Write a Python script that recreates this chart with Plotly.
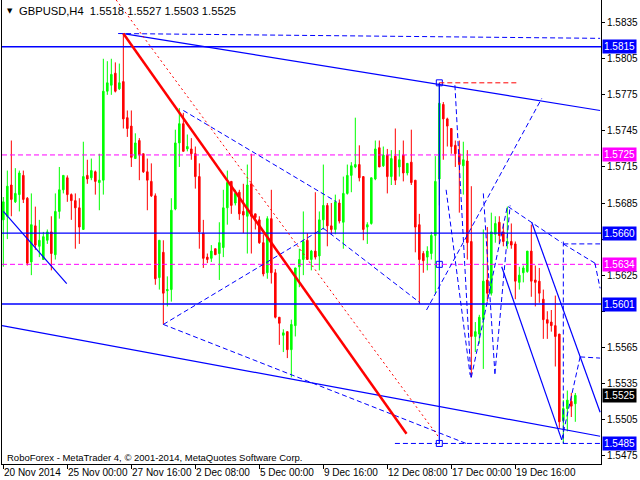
import plotly.graph_objects as go

# ---------------- data ----------------
opens = [1.5671,1.5674,1.5700,1.5686,1.5692,1.5708,1.5689,1.5636,1.5666,1.5649,
 1.5638,1.5654,1.5661,1.5642,1.5678,1.5696,1.5706,1.5692,1.5687,1.5681,
 1.5663,1.5708,1.5706,1.5711,1.5702,1.5704,1.5778,1.5783,1.5793,1.5780,
 1.5786,1.5756,1.5749,1.5722,1.5737,1.5726,1.5711,1.5703,1.5691,1.5623,
 1.5644,1.5612,1.5613,1.5680,1.5735,1.5751,1.5730,1.5730,1.5726,1.5707,
 1.5660,1.5640,1.5639,1.5647,1.5643,1.5648,1.5681,1.5703,1.5685,1.5694,
 1.5678,1.5674,1.5701,1.5676,1.5671,1.5652,1.5627,1.5672,1.5627,1.5590,
 1.5575,1.5578,1.5563,1.5583,1.5632,1.5638,1.5654,1.5638,1.5645,1.5641,
 1.5671,1.5683,1.5666,1.5663,1.5685,1.5669,1.5693,1.5708,1.5715,1.5717,
 1.5707,1.5665,1.5668,1.5705,1.5731,1.5716,1.5725,1.5707,1.5724,1.5715,
 1.5725,1.5710,1.5719,1.5704,1.5667,1.5643,1.5640,1.5643,1.5658,1.5705,
 1.5767,1.5755,1.5747,1.5733,1.5726,1.5716,1.5720,1.5653,1.5574,1.5576,
 1.5588,1.5621,1.5610,1.5659,1.5669,1.5661,1.5651,1.5653,1.5651,1.5619,
 1.5627,1.5628,1.5645,1.5621,1.5620,1.5605,1.5588,1.5586,1.5583,1.5576,
 1.5504,1.5514,1.5520,1.5518]

highs = [1.5690,1.5712,1.5737,1.5714,1.5712,1.5712,1.5690,1.5693,1.5682,1.5671,
 1.5661,1.5663,1.5674,1.5693,1.5715,1.5708,1.5708,1.5693,1.5693,1.5689,
 1.5736,1.5721,1.5722,1.5712,1.5726,1.5805,1.5803,1.5805,1.5802,1.5801,
 1.5826,1.5762,1.5762,1.5743,1.5739,1.5726,1.5722,1.5718,1.5693,1.5654,
 1.5654,1.5624,1.5689,1.5746,1.5764,1.5760,1.5742,1.5739,1.5732,1.5718,
 1.5671,1.5643,1.5650,1.5647,1.5669,1.5696,1.5712,1.5703,1.5696,1.5696,
 1.5701,1.5717,1.5726,1.5676,1.5674,1.5659,1.5674,1.5696,1.5630,1.5590,
 1.5580,1.5578,1.5588,1.5631,1.5647,1.5678,1.5660,1.5646,1.5694,1.5678,
 1.5717,1.5685,1.5685,1.5692,1.5688,1.5707,1.5717,1.5719,1.5756,1.5733,
 1.5707,1.5669,1.5706,1.5737,1.5737,1.5732,1.5730,1.5729,1.5747,1.5729,
 1.5737,1.5718,1.5746,1.5704,1.5676,1.5645,1.5649,1.5661,1.5724,1.5785,
 1.5769,1.5756,1.5747,1.5737,1.5737,1.5736,1.5729,1.5699,1.5586,1.5592,
 1.5663,1.5665,1.5677,1.5674,1.5674,1.5668,1.5682,1.5668,1.5653,1.5632,
 1.5633,1.5645,1.5667,1.5633,1.5631,1.5613,1.5595,1.5596,1.5608,1.5576,
 1.5521,1.5529,1.5527,1.5527]

lows = [1.5632,1.5655,1.5674,1.5685,1.5678,1.5685,1.5633,1.5625,1.5646,1.5640,
 1.5638,1.5651,1.5629,1.5638,1.5672,1.5693,1.5686,1.5671,1.5647,1.5651,
 1.5663,1.5701,1.5704,1.5692,1.5679,1.5692,1.5775,1.5775,1.5777,1.5779,
 1.5747,1.5740,1.5715,1.5722,1.5704,1.5710,1.5679,1.5690,1.5617,1.5613,
 1.5584,1.5599,1.5603,1.5679,1.5715,1.5728,1.5728,1.5721,1.5697,1.5647,
 1.5631,1.5635,1.5636,1.5642,1.5621,1.5640,1.5667,1.5676,1.5683,1.5671,
 1.5660,1.5643,1.5643,1.5663,1.5651,1.5624,1.5622,1.5618,1.5589,1.5567,
 1.5561,1.5556,1.5540,1.5574,1.5615,1.5625,1.5638,1.5629,1.5638,1.5629,
 1.5663,1.5649,1.5659,1.5659,1.5668,1.5647,1.5692,1.5694,1.5714,1.5703,
 1.5654,1.5651,1.5667,1.5704,1.5715,1.5715,1.5693,1.5700,1.5700,1.5707,
 1.5703,1.5708,1.5700,1.5644,1.5601,1.5627,1.5629,1.5638,1.5610,1.5683,
 1.5721,1.5732,1.5726,1.5715,1.5677,1.5692,1.5638,1.5540,1.5561,1.5568,
 1.5547,1.5603,1.5608,1.5652,1.5651,1.5649,1.5647,1.5647,1.5605,1.5613,
 1.5619,1.5627,1.5607,1.5599,1.5602,1.5572,1.5572,1.5578,1.5549,1.5498,
 1.5485,1.5495,1.5507,1.5503]

closes = [1.5686,1.5699,1.5688,1.5693,1.5710,1.5688,1.5635,1.5667,1.5650,1.5654,
 1.5657,1.5661,1.5643,1.5678,1.5696,1.5708,1.5692,1.5687,1.5681,1.5665,
 1.5707,1.5705,1.5712,1.5703,1.5704,1.5778,1.5785,1.5792,1.5778,1.5785,
 1.5755,1.5747,1.5723,1.5735,1.5725,1.5711,1.5704,1.5691,1.5622,1.5654,
 1.5610,1.5613,1.5679,1.5735,1.5751,1.5728,1.5732,1.5726,1.5707,1.5661,
 1.5639,1.5638,1.5645,1.5642,1.5652,1.5681,1.5702,1.5683,1.5693,1.5676,
 1.5675,1.5700,1.5674,1.5673,1.5652,1.5626,1.5672,1.5627,1.5590,1.5585,
 1.5577,1.5563,1.5584,1.5631,1.5638,1.5653,1.5638,1.5645,1.5640,1.5671,
 1.5683,1.5666,1.5663,1.5686,1.5670,1.5693,1.5708,1.5716,1.5717,1.5706,
 1.5663,1.5667,1.5706,1.5730,1.5715,1.5725,1.5707,1.5722,1.5704,1.5721,
 1.5710,1.5718,1.5702,1.5665,1.5638,1.5637,1.5645,1.5658,1.5703,1.5768,
 1.5755,1.5749,1.5732,1.5726,1.5717,1.5721,1.5652,1.5574,1.5578,1.5590,
 1.5620,1.5610,1.5661,1.5668,1.5658,1.5653,1.5653,1.5650,1.5620,1.5625,
 1.5631,1.5645,1.5620,1.5619,1.5610,1.5588,1.5585,1.5583,1.5574,1.5503,
 1.5514,1.5521,1.5516,1.5525]

bars = list(range(len(closes)))

tick_bars = [0, 16, 32, 48, 64, 80, 96, 112, 128]
tick_labels = ["20 Nov 2014", "25 Nov 00:00", "27 Nov 16:00", "2 Dec 08:00",
               "5 Dec 00:00", "9 Dec 16:00", "12 Dec 08:00", "17 Dec 00:00",
               "19 Dec 16:00"]
price_ticks = [1.5475, 1.5505, 1.5535, 1.5565, 1.5595, 1.5625, 1.5655,
               1.5685, 1.5715, 1.5745, 1.5775, 1.5805, 1.5835]
# 1.5595 and 1.5655 sit under the 1.5601 / 1.5660 price boxes
price_tick_text = ["1.5475", "1.5505", "1.5535", "1.5565", "", "1.5625", "",
                   "1.5685", "1.5715", "1.5745", "1.5775", "1.5805", "1.5835"]

symbol_title = "GBPUSD,H4  1.5518 1.5527 1.5503 1.5525"
footer = "RoboForex - MetaTrader 4, \u00a9 2001-2014, MetaQuotes Software Corp."

blue_levels = [1.5815, 1.5660, 1.5601]
magenta_levels = [1.5725, 1.5634]
bottom_level = 1.5485
last_price = 1.5525

# drawn objects: (bar0, price0, bar1, price1)
blue_solid_lines = [
    (30.0, 1.5826, 149.2, 1.5762),
    (-0.33, 1.5583, 149.2, 1.5491),
    (0.0, 1.5678, 15.85, 1.5618),
    (109.0, 1.5785, 109.0, 1.5485),
    (132.1, 1.5669, 149.2, 1.5511),
    (124.6, 1.5632, 139.6, 1.5488),
]
blue_dash_lines = [
    (28.7, 1.5826, 149.2, 1.5822),
    (45.0, 1.5762, 83.3, 1.5686),
    (80.0, 1.5664, 104.2, 1.5602),
    (40.0, 1.5584, 80.0, 1.5664),
    (40.0, 1.5584, 115.7, 1.5485),
    (105.8, 1.5596, 134.6, 1.5772),
    (112.9, 1.5783, 116.9, 1.5540),
    (110.7, 1.5696, 116.7, 1.5542),
    (117.0, 1.5540, 126.0, 1.5682),
    (120.0, 1.5693, 122.9, 1.5543),
    (122.9, 1.5543, 126.7, 1.5683),
    (126.2, 1.5682, 139.6, 1.5652),
    (140.0, 1.5653, 140.0, 1.5485),
    (140.0, 1.5651, 149.2, 1.5651),
    (140.0, 1.5651, 147.9, 1.5635),
    (147.9, 1.5635, 149.2, 1.5614),
    (139.6, 1.5488, 144.2, 1.5557),
    (144.2, 1.5557, 149.2, 1.5556),
    (97.9, 1.5485, 149.2, 1.5485),
]
red_thick_line = (30.0, 1.5826, 100.8, 1.5493)
red_dot_line = (28.2, 1.5854, 108.9, 1.5490)
red_dash_line = (109.0, 1.5785, 129.0, 1.5785)
handle_bars = [109, 109, 109]
handle_prices = [1.5785, 1.5634, 1.5485]

# ---------------- figure ----------------
BLUE = "#0000FF"
MAG = "#FF00FF"
FONT = "Liberation Sans, Arial"

fig = go.Figure()
fig.add_trace(go.Candlestick(
    x=bars, open=opens, high=highs, low=lows, close=closes,
    increasing=dict(line=dict(color="#00FF00", width=1), fillcolor="#00FF00"),
    decreasing=dict(line=dict(color="#FF0000", width=1), fillcolor="#FF0000"),
    whiskerwidth=0, showlegend=False, hoverinfo="skip"))

fig.add_trace(go.Scatter(
    x=handle_bars, y=handle_prices, mode="markers",
    marker=dict(symbol="square-open", size=6, color=BLUE, line=dict(width=1)),
    showlegend=False, hoverinfo="skip"))

shapes = []
for p in blue_levels:
    shapes.append(dict(type="line", xref="paper", x0=0, x1=1, yref="y", y0=p, y1=p,
                       line=dict(color=BLUE, width=1.3)))
for p in magenta_levels:
    shapes.append(dict(type="line", xref="paper", x0=0, x1=1, yref="y", y0=p, y1=p,
                       line=dict(color=MAG, width=1, dash="5px,3px")))
for (a, b, c, d) in blue_solid_lines:
    shapes.append(dict(type="line", xref="x", yref="y", x0=a, y0=b, x1=c, y1=d,
                       line=dict(color=BLUE, width=1.2)))
for (a, b, c, d) in blue_dash_lines:
    shapes.append(dict(type="line", xref="x", yref="y", x0=a, y0=b, x1=c, y1=d,
                       line=dict(color=BLUE, width=1, dash="5px,3px")))
a, b, c, d = red_thick_line
shapes.append(dict(type="line", xref="x", yref="y", x0=a, y0=b, x1=c, y1=d,
                   line=dict(color="#FF0000", width=2.5)))
a, b, c, d = red_dot_line
shapes.append(dict(type="line", xref="x", yref="y", x0=a, y0=b, x1=c, y1=d,
                   line=dict(color="#FF0000", width=1, dash="2px,3px")))
a, b, c, d = red_dash_line
shapes.append(dict(type="line", xref="x", yref="y", x0=a, y0=b, x1=c, y1=d,
                   line=dict(color="#FF0000", width=1, dash="5px,3px")))

annotations = []
def price_box(p, col):
    annotations.append(dict(xref="paper", yref="y", x=1, y=p, xanchor="left",
                            yanchor="middle", xshift=1, text=f"{p:.4f}",
                            showarrow=False, bgcolor=col, borderpad=1,
                            font=dict(family=FONT, size=10, color="white")))
for p in blue_levels:
    price_box(p, BLUE)
for p in magenta_levels:
    price_box(p, MAG)
price_box(bottom_level, BLUE)
price_box(last_price, "#000000")

for tb, tl in zip(tick_bars, tick_labels):
    annotations.append(dict(xref="x", yref="paper", x=tb, y=0, xanchor="left",
                            yanchor="top", xshift=-1, yshift=-1, text=tl,
                            showarrow=False,
                            font=dict(family=FONT, size=10, color="black")))

annotations.append(dict(xref="paper", yref="paper", x=3 / 599, y=1 - 11 / 464,
                        xanchor="left", yanchor="middle", text="\u25BC",
                        showarrow=False, font=dict(family="DejaVu Sans", size=7, color="black")))
annotations.append(dict(xref="paper", yref="paper", x=15 / 599, y=1 - 11 / 464,
                        xanchor="left", yanchor="middle", text=symbol_title,
                        showarrow=False, font=dict(family=FONT, size=11.2, color="black")))
annotations.append(dict(xref="paper", yref="paper", x=3 / 599, y=(464 - 457) / 464,
                        xanchor="left", yanchor="middle", text=footer,
                        showarrow=False, font=dict(family=FONT, size=9.5, color="black")))

fig.update_layout(
    width=640, height=480,
    margin=dict(l=2, r=39, t=0, b=16, autoexpand=False),
    paper_bgcolor="white", plot_bgcolor="white",
    shapes=shapes, annotations=annotations,
    boxgap=0.45,
    xaxis=dict(range=[-0.333, 149.42], rangeslider=dict(visible=False),
               automargin=False,
               showgrid=False, zeroline=False, showline=True, linecolor="black",
               linewidth=1, ticks="outside", ticklen=4, tickcolor="black",
               tickvals=tick_bars, showticklabels=False, fixedrange=True),
    yaxis=dict(range=[1.54679, 1.58539], side="right", showgrid=False,
               automargin=False,
               zeroline=False, showline=True, mirror=True, linecolor="black",
               linewidth=1, ticks="outside", ticklen=3, tickcolor="black",
               tickvals=price_ticks, ticktext=price_tick_text,
               tickfont=dict(family=FONT, size=10, color="black")),
)

fig.write_html("out.html", config={"displayModeBar": False},
               post_script="document.body.style.margin='0';document.body.style.overflow='hidden';")
